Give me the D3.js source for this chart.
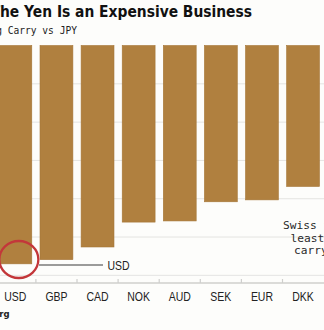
<!DOCTYPE html>
<html>
<head>
<meta charset="utf-8">
<script src="https://cdn.jsdelivr.net/npm/d3@7"></script>
<style>
  html, body { margin: 0; padding: 0; background: #fdfdfb; overflow: hidden; }
  svg { display: block; }
</style>
</head>
<body>
<script>
// Annualized carry cost of funding in JPY, per currency (%)
const currencies = ["USD", "GBP", "CAD", "NOK", "AUD", "SEK", "EUR", "DKK"];
const carry = [-5.70, -5.59, -5.26, -4.61, -4.58, -4.08, -4.03, -3.68];
const gridValues = [-1, -2, -3, -4, -5, -6];

const W = 324, H = 330;
const svg = d3.select("body").append("svg").attr("width", W).attr("height", H);

const x = d3.scaleBand().domain(currencies).range([-5.2, 323.6])
  .paddingInner(0.2).paddingOuter(0.1);
const y = d3.scaleLinear().domain([0, -6.2]).range([45.5, 283]);

const narrowFont = "'Liberation Sans', Arial, sans-serif";
const narrow = 0.84; // horizontal squeeze for the condensed label face

// gridlines
svg.append("g").selectAll("line").data(gridValues).join("line")
  .attr("x1", 0).attr("x2", W)
  .attr("y1", d => y(d)).attr("y2", d => y(d))
  .attr("stroke", "#e4e4e2").attr("stroke-width", 1);

// bars hanging from zero
svg.append("g").selectAll("rect").data(currencies).join("rect")
  .attr("x", d => x(d))
  .attr("width", x.bandwidth())
  .attr("y", y(0))
  .attr("height", (d, i) => y(carry[i]) - y(0))
  .attr("fill", "#b0803f")
  .attr("stroke", "#a67637").attr("stroke-width", 0.6);

// category axis at the bottom
const axisY = y(-6.2);
const axis = svg.append("g");
axis.append("line").attr("x1", 0).attr("x2", W)
  .attr("y1", axisY).attr("y2", axisY)
  .attr("stroke", "#cfcfcd").attr("stroke-width", 1.5);
axis.selectAll("line.tick").data(currencies.slice(1)).join("line")
  .attr("class", "tick")
  .attr("x1", d => x(d) - x.step() * 0.1).attr("x2", d => x(d) - x.step() * 0.1)
  .attr("y1", axisY - 4).attr("y2", axisY)
  .attr("stroke", "#cfcfcd").attr("stroke-width", 1.2);
axis.selectAll("text").data(currencies).join("text")
  .attr("transform", d => `translate(${x(d) + x.bandwidth() / 2},301) scale(${narrow},1)`)
  .attr("text-anchor", "middle")
  .attr("font-family", narrowFont)
  .attr("font-size", 12.5)
  .attr("fill", "#222")
  .text(d => d);

// title block: "The Yen Is an Expensive Business", with its tail ending at x = 252
const titleG = svg.append("g");
titleG.append("text")
  .attr("font-family", "'DejaVu Sans', sans-serif").attr("font-weight", "bold")
  .attr("font-size", 15.2).attr("fill", "#111")
  .attr("text-anchor", "end")
  .text("The Yen Is an Expensive Business");
const probe = titleG.append("text")
  .attr("font-family", "'DejaVu Sans', sans-serif").attr("font-weight", "bold")
  .attr("font-size", 15.2).text("he Yen Is an Expensive Business");
const tailW = probe.node().getComputedTextLength();
probe.remove();
const sx = 252 / tailW;
titleG.attr("transform", `translate(252,16.7) scale(${sx},1)`);

svg.append("text").attr("x", 77).attr("y", 33.5).attr("text-anchor", "end")
  .attr("font-family", "'DejaVu Sans Mono', monospace")
  .attr("font-size", 9.6).attr("fill", "#222")
  .text("Annualized Funding Carry vs JPY");

// source
svg.append("text").attr("x", 9.5).attr("y", 316.5).attr("text-anchor", "end")
  .attr("font-family", "'DejaVu Sans', sans-serif").attr("font-weight", "bold")
  .attr("font-size", 8.5).attr("fill", "#222")
  .text("Source: Bloomberg");

// USD callout
const usdX = x("USD") + x.bandwidth() / 2;
svg.append("ellipse").attr("cx", usdX + 3.5).attr("cy", 259.5).attr("rx", 19.5).attr("ry", 18.5)
  .attr("fill", "none").attr("stroke", "#c3373a").attr("stroke-width", 2.3);
svg.append("line").attr("x1", 39).attr("x2", 103).attr("y1", 265).attr("y2", 265)
  .attr("stroke", "#7a7a7a").attr("stroke-width", 1.5);
svg.append("text")
  .attr("transform", `translate(107.5,270) scale(${narrow},1)`)
  .attr("font-family", narrowFont)
  .attr("font-size", 12.5).attr("fill", "#222").text("USD");

// Swiss franc note
const note = svg.append("text")
  .attr("font-family", "'DejaVu Sans Mono', monospace")
  .attr("font-size", 11.2).attr("fill", "#2a2a2a");
[["Swiss franc has", 283, 229], ["least negative", 290.5, 241.5], ["carry", 294, 253.5]]
  .forEach(([t, tx, ty]) => note.append("tspan").attr("x", tx).attr("y", ty).text(t));
</script>
</body>
</html>
